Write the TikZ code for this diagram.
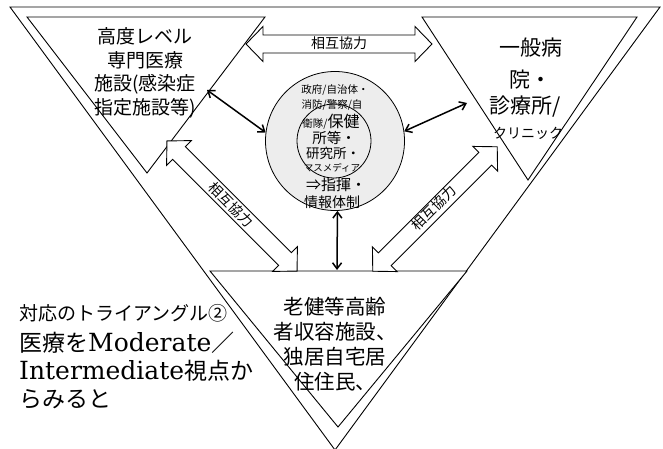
\documentclass[tikz,border=0pt]{standalone}
\usepackage{fontspec}
\setmainfont{Noto Sans CJK JP}
\newfontfamily\lat{DejaVu Serif}
\usetikzlibrary{arrows.meta}
\newcommand\myfs[2]{\fontsize{#1}{#2}\selectfont}
\newcommand\barrow[4]{%
  \begin{scope}[shift={(#1,#2)}, rotate=#3]
    \pgfmathsetmacro\baA{#4}\pgfmathsetmacro\baB{#4-17}
    \draw[blockarrow] (-\baA,0) -- (-\baB,-17.5) -- (-\baB,-9) -- (\baB,-9) -- (\baB,-17.5)
      -- (\baA,0) -- (\baB,17.5) -- (\baB,9) -- (-\baB,9) -- (-\baB,17.5) -- cycle;
  \end{scope}}
\begin{document}
\begin{tikzpicture}[x=1pt,y=-1pt,
  tri/.style={draw, line width=0.9pt, fill=white},
  blockarrow/.style={draw, line width=0.9pt, fill=white},
  link/.style={{Straight Barb[length=6pt,width=9pt]}-{Straight Barb[length=6pt,width=9pt]}, line width=1.5pt},
  lbl/.style={inner sep=0pt, align=center},
  coop/.style={inner sep=0pt, font=\myfs{14}{16}},
]
\useasboundingbox (0,0) rectangle (663,449);
% outer triangle
\draw[tri] (10,7) coordinate (o1) -- (660,7) coordinate (o2) -- (335,450) coordinate (o3) -- cycle;
% three inner triangles
\draw[tri] (27,17) coordinate (a1) -- (265,17) coordinate (a2) -- (147,173) coordinate (a3) -- cycle;
\draw[tri] (422,17) coordinate (b1) -- (637,17) coordinate (b2) -- (528,180) coordinate (b3) -- cycle;
\draw[tri] (210,271) coordinate (c1) -- (467,271) coordinate (c2) -- (338,427) coordinate (c3) -- cycle;
% circles
\node[circle, draw, line width=0.8pt, fill=black!7, minimum size=139pt, inner sep=0pt] (circ) at (335,141) {};
\node[circle, draw, line width=0.8pt, minimum size=74pt, inner sep=0pt] (inner) at (334,141) {};
% block arrows
\barrow{339}{44}{0}{93}
\barrow{232}{206}{-45}{92}
\barrow{435}{209}{45}{88}
\node[coop] (coop1) at (339,43) {相互協力};
\node[coop, rotate=-45] (coop2) at (231,205) {相互協力};
\node[coop, rotate=45] (coop3) at (434,208) {相互協力};
% links
\coordinate (tlhit) at (207,90);
\coordinate (trhit) at (467,103);
\coordinate (lowhit) at (337,270);
\draw[link] (circ.173) -- (tlhit);
\draw[link] (circ.8) -- (trhit);
\draw[link] (circ.272) -- (lowhit);
% texts
\node[lbl, font=\myfs{19}{23.7}] (hosp) at (145,73) {高度レベル\\専門医療\\施設(感染症\\指定施設等)};
\node[lbl, font=\myfs{21}{26}] (gen1) at (531,48) {一般病};
\node[lbl, font=\myfs{21}{26}] (gen2) at (530,80) {院・};
\node[lbl, font=\myfs{21}{26}] (gen3) at (525,107) {診療所/};
\node[lbl, font=\myfs{14}{16}] (gen4) at (528,133) {クリニック};
\node[lbl, font=\myfs{20.5}{25}] (elder) at (335,344) {老健等高齢\\者収容施設、\\独居自宅居\\住住民、};
\node[lbl, anchor=base west, font=\myfs{19}{24}] (tri2) at (19,320) {対応のトライアングル②};
\node[lbl, anchor=base west, font=\myfs{23}{28}] (view1) at (19,351) {医療を{\lat\myfs{25}{28}Moderate}／};
\node[lbl, anchor=base west, font=\myfs{23}{28}] (view2) at (19,379) {{\lat\myfs{25}{28}Intermediate}視点か};
\node[lbl, anchor=base west, font=\myfs{23}{28}] (view3) at (19,407) {らみると};
% circle texts
\node[lbl, anchor=base, font=\myfs{10.5}{12}] (g1) at (335,94) {政府/自治体・};
\node[lbl, anchor=base, font=\myfs{10.5}{12}] (g2) at (332,109) {消防/警察/自};
\node[lbl, anchor=base, font=\myfs{10.5}{12}] (g3) at (331,128) {衛隊/{\myfs{16}{18}保健}};
\node[lbl, anchor=base, font=\myfs{14.5}{16}] (g4) at (334,143.5) {所等・};
\node[lbl, anchor=base, font=\myfs{13.5}{16}] (g5) at (333,158) {研究所・};
\node[lbl, anchor=base, font=\myfs{9.5}{12}] (g6) at (332,171.5) {マスメディア};
\node[lbl, anchor=base, font=\myfs{15}{16}] (g7) at (336,190.5) {⇒指揮・};
\node[lbl, anchor=base, font=\myfs{14}{16}] (g8) at (332,207) {情報体制};
\end{tikzpicture}
\end{document}
